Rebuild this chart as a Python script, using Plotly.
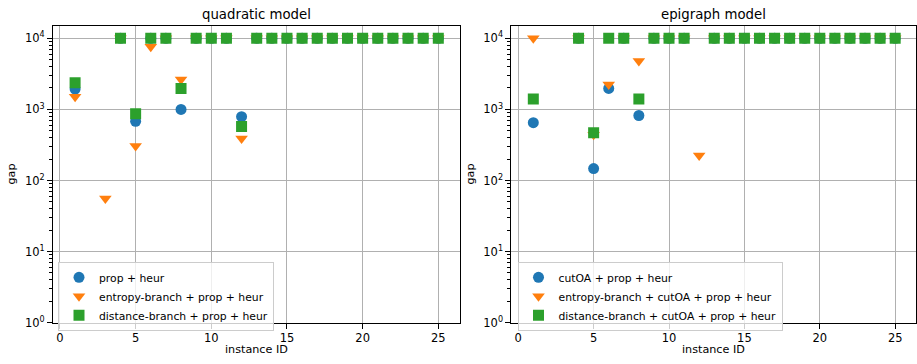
import plotly.graph_objects as go

# ---------------- data ----------------
instance_ids = list(range(1, 26))
N = None
E4 = 10000

# quadratic model
quad_prop_heur = [1930, N, N, E4, 680, E4, E4, 1000, E4, E4, E4, 790,
                  E4, E4, E4, E4, E4, E4, E4, E4, E4, E4, E4, E4, E4]
quad_entropy = [1500, N, 56, E4, 305, 7600, E4, 2630, E4, E4, E4, 390,
                E4, E4, E4, E4, E4, E4, E4, E4, E4, E4, E4, E4, E4]
quad_distance = [2360, N, N, E4, 870, E4, E4, 1970, E4, E4, E4, 575,
                 E4, E4, E4, E4, E4, E4, E4, E4, E4, E4, E4, E4, E4]

# epigraph model
epi_cutoa = [650, N, N, E4, 147, 1970, E4, 820, E4, E4, E4, N,
             E4, E4, E4, E4, E4, E4, E4, E4, E4, E4, E4, E4, E4]
epi_entropy = [E4, N, N, E4, 440, 2240, E4, 4810, E4, E4, E4, 224,
               E4, E4, E4, E4, E4, E4, E4, E4, E4, E4, E4, E4, E4]
epi_distance = [1400, N, N, E4, 470, E4, E4, 1400, E4, E4, E4, N,
                E4, E4, E4, E4, E4, E4, E4, E4, E4, E4, E4, E4, E4]

names_quad = ["prop + heur", "entropy-branch + prop + heur", "distance-branch + prop + heur"]
names_epi = ["cutOA + prop + heur", "entropy-branch + cutOA + prop + heur",
             "distance-branch + cutOA + prop + heur"]
titles = ["quadratic model", "epigraph model"]
x_ticks = [0, 5, 10, 15, 20, 25]
y_tickvals = [1, 10, 100, 1000, 10000]
y_ticktext = ["10<sup>0</sup>", "10<sup>1</sup>", "10<sup>2</sup>", "10<sup>3</sup>", "10<sup>4</sup>"]

# ---------------- styling ----------------
W, H = 917, 364
FONT = "DejaVu Sans"
colors = ["#1f77b4", "#ff7f0e", "#2ca02c"]
symbols = ["circle", "triangle-down", "square"]
sizes = [11, 11, 11]

fig = go.Figure()

panels = [
    (titles[0], names_quad, [quad_prop_heur, quad_entropy, quad_distance], "x", "y", "legend"),
    (titles[1], names_epi, [epi_cutoa, epi_entropy, epi_distance], "x2", "y2", "legend2"),
]

for title, names, series, xa, ya, lg in panels:
    for i, (nm, vals) in enumerate(zip(names, series)):
        fig.add_trace(go.Scatter(
            x=instance_ids, y=vals, mode="markers", name=nm,
            marker=dict(symbol=symbols[i], size=sizes[i], color=colors[i], line=dict(width=0)),
            xaxis=xa, yaxis=ya, legend=lg,
        ))

# axes domains (pixel-measured)
dom_x1 = [53 / W, 459.5 / W]
dom_x2 = [511.3 / W, 916.3 / W]
dom_y = [1 - 329 / H, 1 - 27 / H]

axis_common = dict(
    showline=True, linecolor="black", linewidth=1, mirror=True,
    ticks="outside", ticklen=5, tickcolor="black", tickwidth=0.8,
    showgrid=True, gridcolor="#b0b0b0", gridwidth=0.8,
    zeroline=False, tickfont=dict(family=FONT, size=11.5, color="black"),
)
xcommon = dict(axis_common, range=[-0.46, 26.4], tickmode="array", tickvals=x_ticks)
ycommon = dict(axis_common, type="log", range=[0, 4.166], tickmode="array",
               tickvals=y_tickvals, ticktext=y_ticktext,
               minor=dict(ticks="outside", ticklen=3, tickcolor="black", tickwidth=0.6,
                          dtick="D1", showgrid=False))

legend_common = dict(xanchor="left", yanchor="top",
                     bgcolor="rgba(255,255,255,0.8)", bordercolor="#cccccc", borderwidth=1,
                     font=dict(family=FONT, size=10.8), tracegroupgap=0)

fig.update_layout(
    width=W, height=H,
    margin=dict(l=0, r=0, t=0, b=0),
    paper_bgcolor="white", plot_bgcolor="white",
    font=dict(family=FONT, size=11, color="black"),
    xaxis=dict(xcommon, domain=dom_x1, anchor="y"),
    yaxis=dict(ycommon, domain=dom_y, anchor="x"),
    xaxis2=dict(xcommon, domain=dom_x2, anchor="y2"),
    yaxis2=dict(ycommon, domain=dom_y, anchor="x2"),
    legend=dict(legend_common, x=58 / W, y=1 - 267 / H),
    legend2=dict(legend_common, x=517.5 / W, y=1 - 267 / H),
)

annotations = []
centers = [(dom_x1[0] + dom_x1[1]) / 2, (dom_x2[0] + dom_x2[1]) / 2]
for k, t in enumerate(titles):
    annotations.append(dict(text=t, x=centers[k], y=1 - 15 / H, xref="paper", yref="paper",
                            xanchor="center", yanchor="middle", showarrow=False,
                            font=dict(family=FONT, size=13.3, color="black")))
    annotations.append(dict(text="instance ID", x=centers[k], y=1 - 356.5 / H, xref="paper",
                            yref="paper", xanchor="center", yanchor="middle", showarrow=False,
                            font=dict(family=FONT, size=11.2, color="black")))
gap_x = [12 / W, 471 / W]
for k in range(2):
    annotations.append(dict(text="gap", x=gap_x[k], y=(dom_y[0] + dom_y[1]) / 2, xref="paper",
                            yref="paper", xanchor="center", yanchor="middle", textangle=-90,
                            showarrow=False, font=dict(family=FONT, size=11.2, color="black")))
fig.update_layout(annotations=annotations)

fig.write_html("out.html")
